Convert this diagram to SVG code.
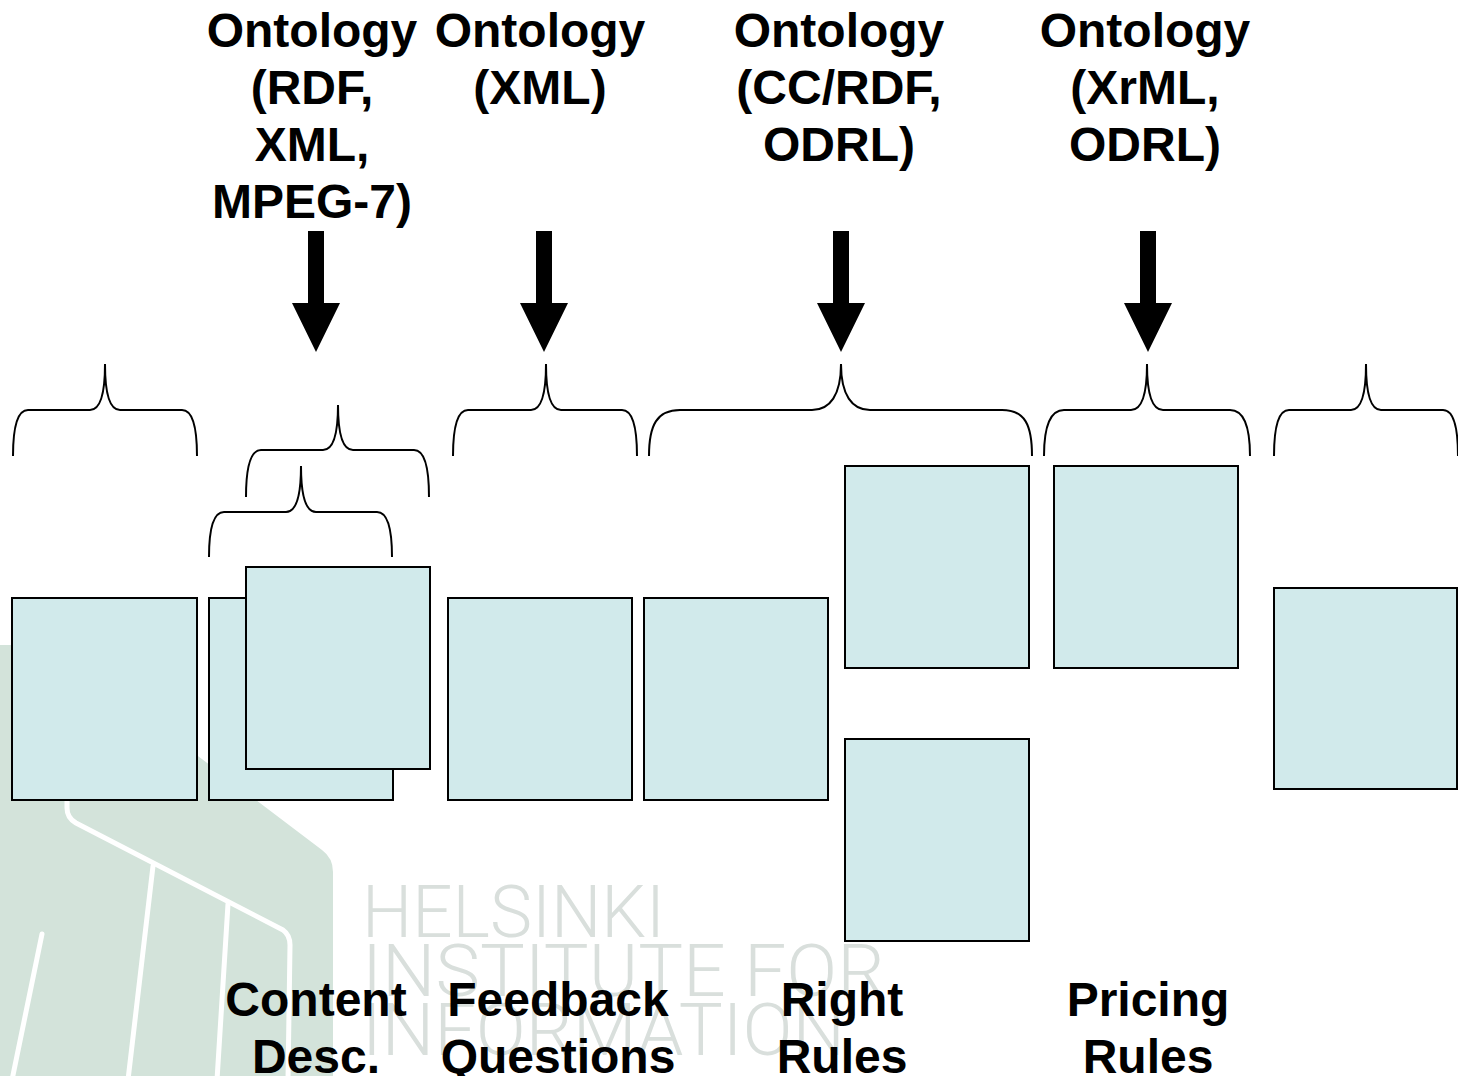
<svg xmlns="http://www.w3.org/2000/svg" width="1458" height="1076" viewBox="0 0 1458 1076">
<style>
.lbl{font-family:"Liberation Sans",Arial,sans-serif;font-weight:bold;font-size:48px;fill:#000;text-anchor:middle}
.wm{font-family:Roboto,"DejaVu Sans",sans-serif;font-weight:300;font-size:72px;fill:#d9dfdc}
.box{fill:#d1eaeb;stroke:#000;stroke-width:2}
.brace{fill:none;stroke:#000;stroke-width:2}
.wl{fill:none;stroke:#fff;stroke-width:5;stroke-linecap:round;stroke-linejoin:round}
</style>
<rect width="1458" height="1076" fill="#fff"/>
<g id="background">
<path d="M0,645 L38,645 Q52,645 62,653 L322,850 Q333,858 333,872 L333,1076 L0,1076 Z" fill="#d3e3da"/>
<path class="wl" d="M67,790 L67,808 Q67,818 76,823 L283,930 Q290,935 290,945 L288,1080"/>
<path class="wl" d="M153,866 L128,1080"/>
<path class="wl" d="M228,904 L217,1080"/>
<path class="wl" d="M42,934 L12,1080"/>
<text class="wm" x="362" y="937" textLength="303" lengthAdjust="spacingAndGlyphs">HELSINKI</text>
<text class="wm" x="362" y="996" textLength="523" lengthAdjust="spacingAndGlyphs">INSTITUTE FOR</text>
<text class="wm" x="362" y="1055" textLength="483" lengthAdjust="spacingAndGlyphs">INFORMATION</text>
</g>
<g id="connectors">
<path class="brace" d="M13,456 C13,428 17,410 28,410 L90,410 C99,410 105,398 105,364 C105,398 111,410 120,410 L182,410 C193,410 197,428 197,456"/>
<path class="brace" d="M246,497 C246,469 250,450 261,450 L323,450 C332,450 338,438 338,405 C338,438 344,450 353,450 L414,450 C425,450 429,469 429,497"/>
<path class="brace" d="M209,557 C209,529 213,512 224,512 L286,512 C295,512 301,500 301,466 C301,500 307,512 316,512 L377,512 C388,512 392,529 392,557"/>
<path class="brace" d="M453,456 C453,428 457,410 468,410 L531,410 C540,410 546,398 546,364 C546,398 552,410 561,410 L622,410 C633,410 637,428 637,456"/>
<path class="brace" d="M649,456 C649,425 657,410 680,410 L812,410 C830,410 841,395 841,364 C841,395 852,410 870,410 L1002,410 C1025,410 1032,425 1032,456"/>
<path class="brace" d="M1044,456 C1044,427 1050,410 1064,410 L1131,410 C1141,410 1147,398 1147,364 C1147,398 1153,410 1163,410 L1230,410 C1244,410 1250,427 1250,456"/>
<path class="brace" d="M1274,456 C1274,428 1278,410 1289,410 L1351,410 C1360,410 1366,398 1366,364 C1366,398 1372,410 1381,410 L1443,410 C1454,410 1458,428 1458,456"/>
<polygon points="308,231 324,231 324,303 340,303 316,352 292,303 308,303"/>
<polygon points="536,231 552,231 552,303 568,303 544,352 520,303 536,303"/>
<polygon points="833,231 849,231 849,303 865,303 841,352 817,303 833,303"/>
<polygon points="1140,231 1156,231 1156,303 1172,303 1148,352 1124,303 1140,303"/>
</g>
<g id="box-a"><rect class="box" x="12" y="598" width="185" height="202"/></g>
<g id="box-b"><rect class="box" x="209" y="598" width="184" height="202"/></g>
<g id="box-c"><rect class="box" x="246" y="567" width="184" height="202"/></g>
<g id="box-d"><rect class="box" x="448" y="598" width="184" height="202"/></g>
<g id="box-e"><rect class="box" x="644" y="598" width="184" height="202"/></g>
<g id="box-f"><rect class="box" x="845" y="466" width="184" height="202"/></g>
<g id="box-g"><rect class="box" x="845" y="739" width="184" height="202"/></g>
<g id="box-h"><rect class="box" x="1054" y="466" width="184" height="202"/></g>
<g id="box-i"><rect class="box" x="1274" y="588" width="183" height="201"/></g>
<g id="label-ont1"><text class="lbl" x="312"><tspan x="312" y="47">Ontology</tspan><tspan x="312" y="104">(RDF,</tspan><tspan x="312" y="161">XML,</tspan><tspan x="312" y="218">MPEG-7)</tspan></text></g>
<g id="label-ont2"><text class="lbl" x="540"><tspan x="540" y="47">Ontology</tspan><tspan x="540" y="104">(XML)</tspan></text></g>
<g id="label-ont3"><text class="lbl" x="839"><tspan x="839" y="47">Ontology</tspan><tspan x="839" y="104">(CC/RDF,</tspan><tspan x="839" y="161">ODRL)</tspan></text></g>
<g id="label-ont4"><text class="lbl" x="1145"><tspan x="1145" y="47">Ontology</tspan><tspan x="1145" y="104">(XrML,</tspan><tspan x="1145" y="161">ODRL)</tspan></text></g>
<g id="label-content"><text class="lbl" x="316"><tspan x="316" y="1016">Content</tspan><tspan x="316" y="1073">Desc.</tspan></text></g>
<g id="label-feedback"><text class="lbl" x="558"><tspan x="558" y="1016">Feedback</tspan><tspan x="558" y="1073">Questions</tspan></text></g>
<g id="label-right"><text class="lbl" x="842"><tspan x="842" y="1016">Right</tspan><tspan x="842" y="1073">Rules</tspan></text></g>
<g id="label-pricing"><text class="lbl" x="1148"><tspan x="1148" y="1016">Pricing</tspan><tspan x="1148" y="1073">Rules</tspan></text></g>
</svg>
